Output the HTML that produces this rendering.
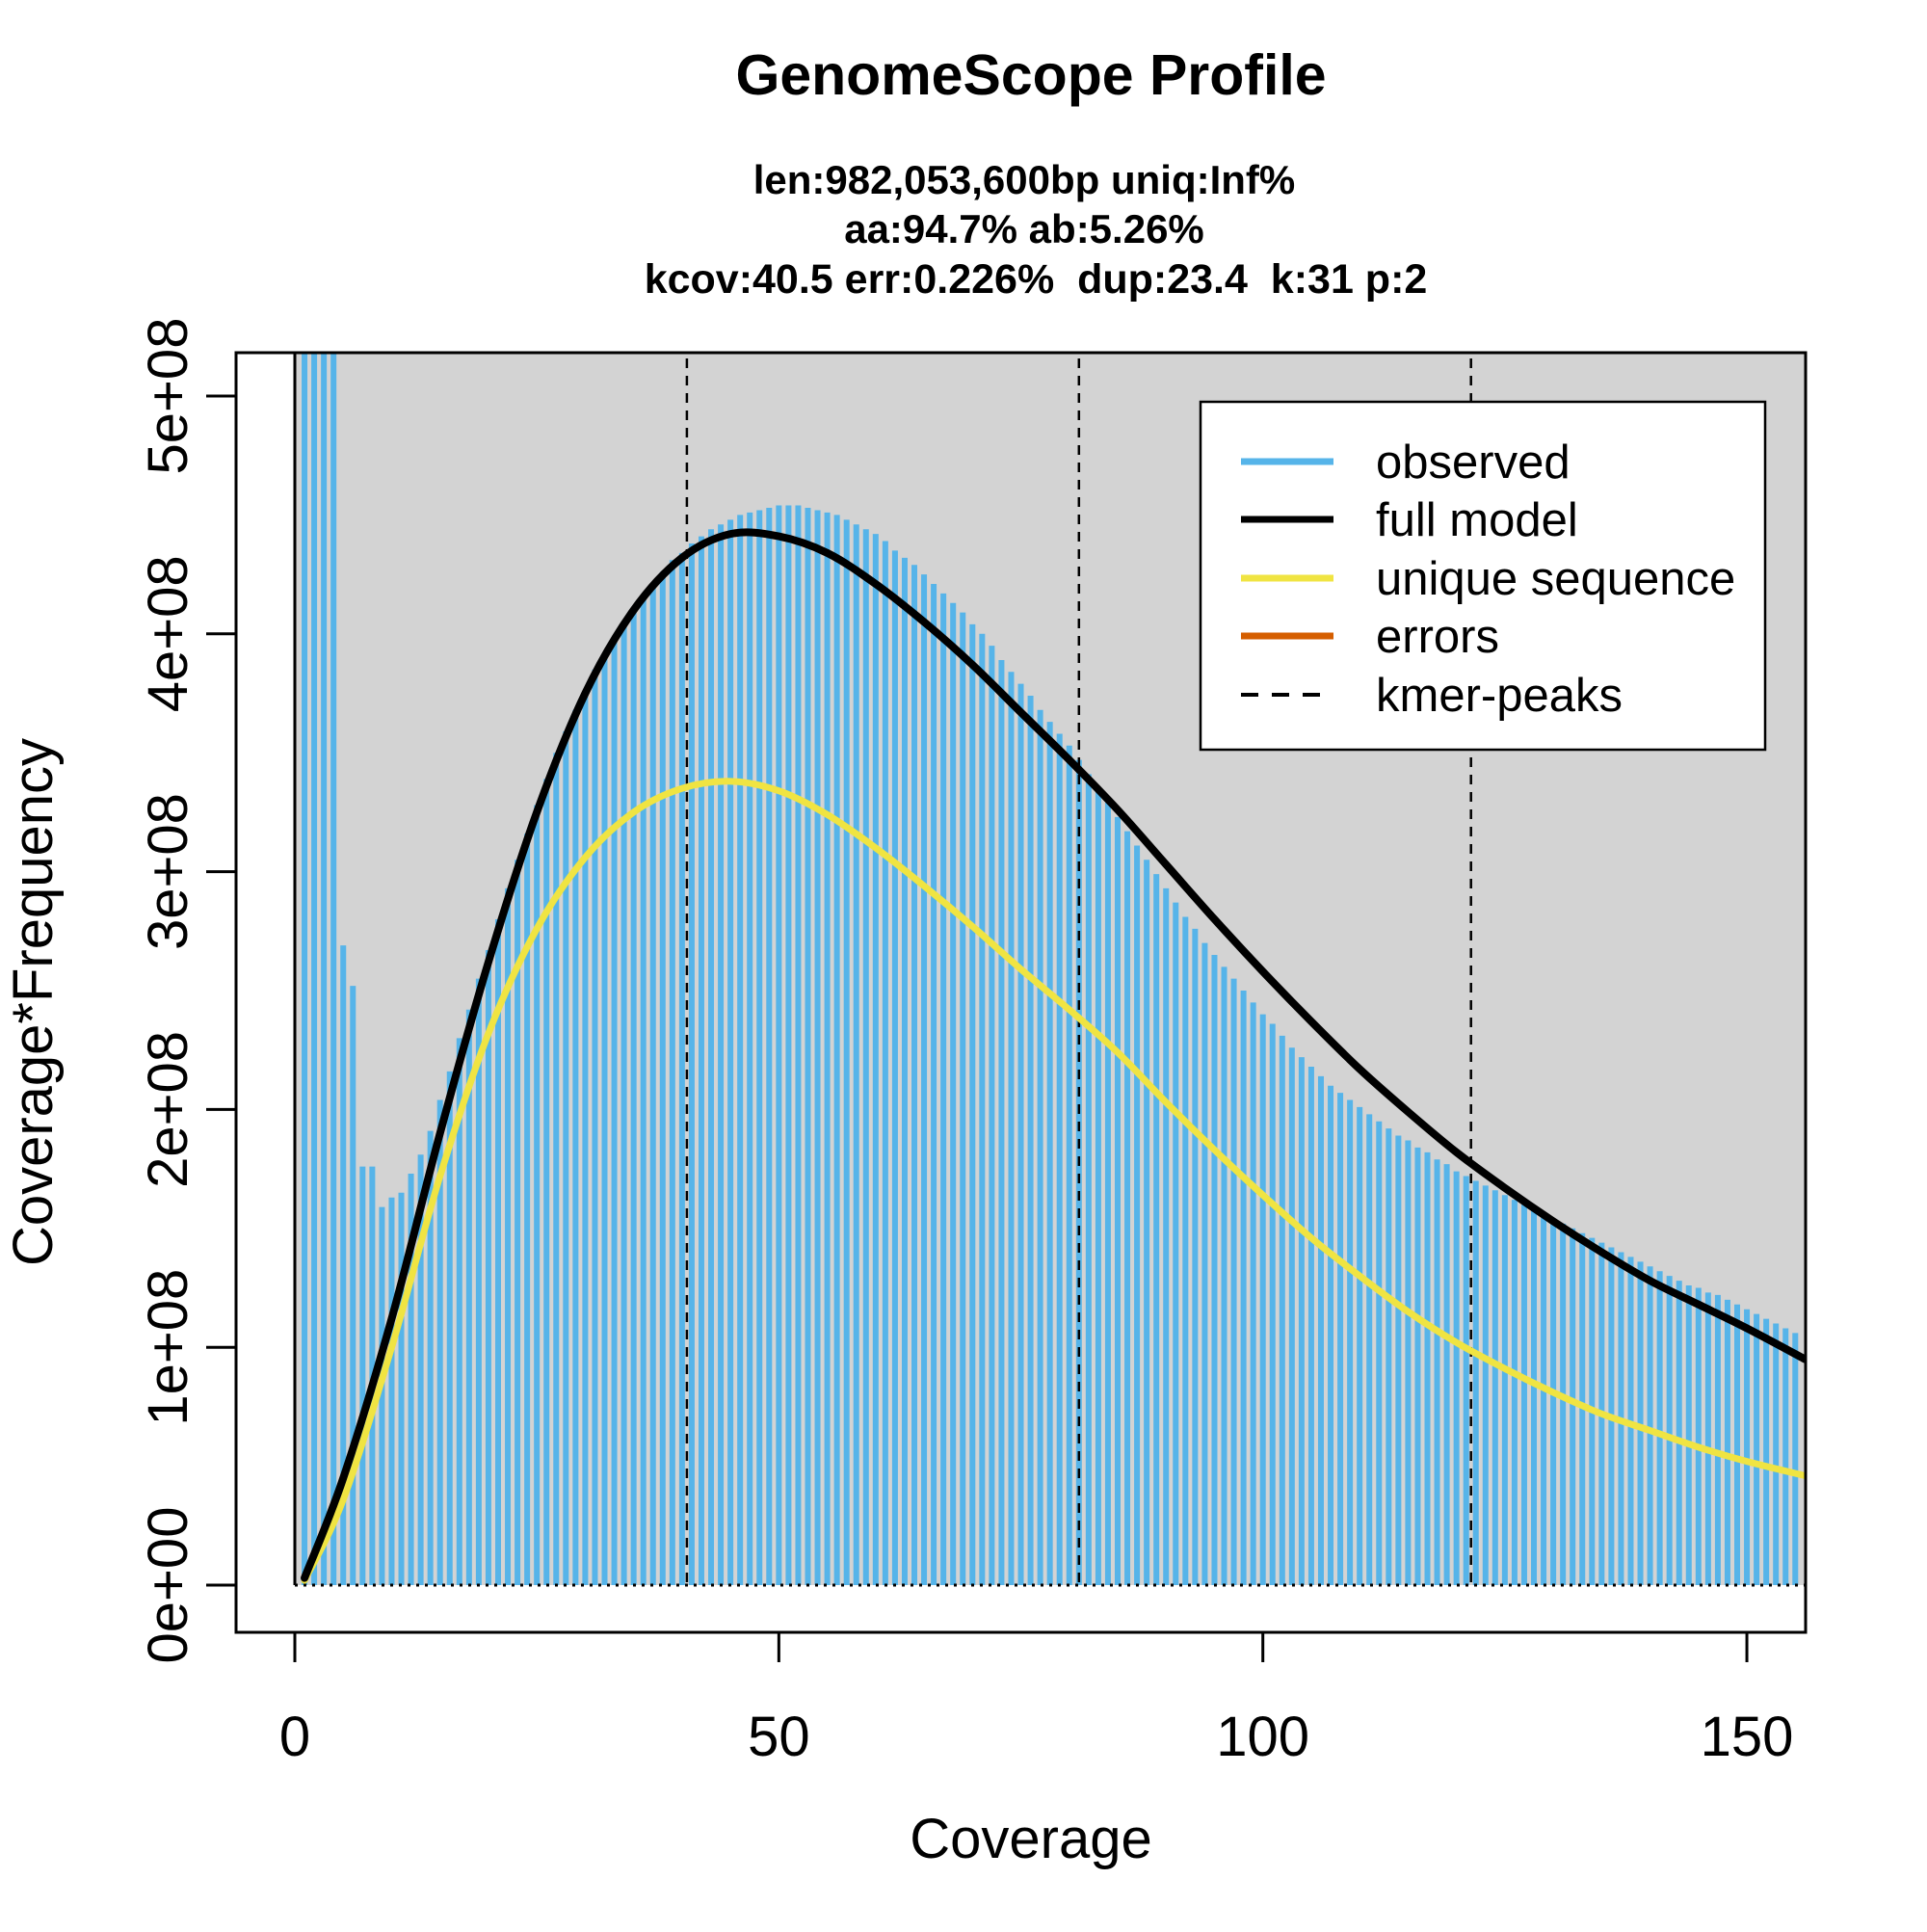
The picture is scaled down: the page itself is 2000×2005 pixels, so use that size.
<!DOCTYPE html>
<html><head><meta charset="utf-8"><style>
body{margin:0;background:#fff}
svg text{font-family:"Liberation Sans",Arial,sans-serif;white-space:pre}
</style></head><body>
<svg id="chart" width="2000" height="2000" viewBox="0 0 2000 2000" xmlns="http://www.w3.org/2000/svg">
<defs><clipPath id="pc"><rect x="245" y="366" width="1629" height="1328"/></clipPath></defs>
<rect x="0" y="0" width="2000" height="2000" fill="#fff"/>
<text x="1070" y="98" font-size="59" font-weight="bold" text-anchor="middle">GenomeScope Profile</text>
<text x="1063" y="201" font-size="42" font-weight="bold" text-anchor="middle">len:982,053,600bp uniq:Inf%</text>
<text x="1063" y="252" font-size="42" font-weight="bold" text-anchor="middle">aa:94.7% ab:5.26%</text>
<text x="1075" y="304" font-size="43" font-weight="bold" text-anchor="middle">kcov:40.5 err:0.226%  dup:23.4  k:31 p:2</text>
<g id="plot" clip-path="url(#pc)"></g>
<g id="axes"></g>
<text x="1070" y="1928" font-size="58" text-anchor="middle">Coverage</text>
<text transform="translate(54,1040) rotate(-90)" font-size="58" text-anchor="middle">Coverage*Frequency</text>
<g>
<rect x="1246" y="417" width="586" height="361" fill="#fff" stroke="#000" stroke-width="2.5"/>
<line x1="1288" y1="479" x2="1384" y2="479" stroke="#56B4E9" stroke-width="7"/>
<text x="1428" y="496" font-size="49">observed</text>
<line x1="1288" y1="539" x2="1384" y2="539" stroke="#000" stroke-width="7"/>
<text x="1428" y="556" font-size="49">full model</text>
<line x1="1288" y1="600" x2="1384" y2="600" stroke="#F0E442" stroke-width="7"/>
<text x="1428" y="617" font-size="49">unique sequence</text>
<line x1="1288" y1="660" x2="1384" y2="660" stroke="#D55E00" stroke-width="7"/>
<text x="1428" y="677" font-size="49">errors</text>
<line x1="1288" y1="721" x2="1384" y2="721" stroke="#000" stroke-width="4" stroke-dasharray="18,14"/>
<text x="1428" y="738" font-size="49">kmer-peaks</text>
</g>
<rect x="245" y="366" width="1629" height="1328" fill="none" stroke="#000" stroke-width="3"/>
</svg>
<script>
const obsValues=[9,9,9,9,2.69,2.52,1.76,1.76,1.59,1.63,1.65,1.73,1.81,1.91,2.04,2.16,2.30,2.42,2.55,2.67,2.80,2.93,3.05,3.16,3.28,3.39,3.50,3.59,3.68,3.76,3.85,3.91,3.98,4.05,4.11,4.16,4.21,4.26,4.31,4.34,4.38,4.41,4.44,4.46,4.48,4.50,4.51,4.52,4.53,4.54,4.54,4.54,4.53,4.52,4.51,4.50,4.48,4.46,4.44,4.42,4.39,4.35,4.32,4.29,4.25,4.21,4.17,4.13,4.09,4.04,4.00,3.95,3.89,3.84,3.79,3.74,3.68,3.63,3.58,3.53,3.47,3.41,3.35,3.29,3.23,3.17,3.11,3.05,2.99,2.93,2.87,2.81,2.76,2.70,2.65,2.60,2.55,2.50,2.45,2.40,2.36,2.31,2.26,2.22,2.18,2.14,2.10,2.07,2.04,2.01,1.98,1.95,1.92,1.89,1.87,1.84,1.82,1.79,1.77,1.74,1.72,1.70,1.68,1.66,1.64,1.62,1.60,1.58,1.56,1.54,1.52,1.50,1.48,1.46,1.44,1.42,1.40,1.38,1.36,1.34,1.32,1.30,1.28,1.26,1.25,1.23,1.22,1.20,1.18,1.16,1.14,1.12,1.10,1.08,1.06];
const curveX=[1,5,10,15,20,25,30,35,40,45,50,55,60,65,70,75,80,85,90,95,100,105,110,115,120,125,130,135,140,145,150,156];
const fullModel=[0.03,0.45,1.12,1.90,2.62,3.25,3.75,4.10,4.32,4.42,4.41,4.34,4.21,4.05,3.87,3.67,3.47,3.26,3.03,2.80,2.58,2.37,2.17,1.99,1.82,1.67,1.53,1.40,1.28,1.18,1.08,0.95];
const uniqueSeq=[0.02,0.36,1.00,1.72,2.32,2.76,3.06,3.25,3.35,3.38,3.34,3.24,3.10,2.94,2.77,2.59,2.42,2.24,2.03,1.83,1.64,1.46,1.30,1.15,1.02,0.91,0.81,0.72,0.65,0.58,0.52,0.46];
const peaks=[40.5,81,121.5];
const xTicks=[0,50,100,150];
const yTicks=[0,1,2,3,4,5];
const yTickLabels=["0e+00","1e+08","2e+08","3e+08","4e+08","5e+08"];
const NS="http://www.w3.org/2000/svg";
const sx=v=>306+v*10.047;
const sy=v=>1645-v*246.8;
function mk(tag,attrs,parent){const e=document.createElementNS(NS,tag);for(const k in attrs)e.setAttribute(k,attrs[k]);parent.appendChild(e);return e;}
const plot=document.getElementById('plot'),axes=document.getElementById('axes');
let bg=mk('rect',{x:sx(0),y:300,width:1900-sx(0),height:sy(0)-300,fill:'#D3D3D3'},plot);


obsValues.forEach((v,i)=>{const x=sx(i+1);
 const b=mk('line',{x1:x,x2:x,y1:sy(0),y2:sy(v),stroke:'#56B4E9','stroke-width':6},plot);
 
 });
let hz=mk('line',{x1:sx(0),x2:1874,y1:sy(0),y2:sy(0),stroke:'#000','stroke-width':3,'stroke-dasharray':'3,6'},plot);


let vl=mk('line',{x1:sx(0),x2:sx(0),y1:sy(0),y2:300,stroke:'#000','stroke-width':3},plot);


peaks.forEach(p=>{const l=mk('line',{x1:sx(p),x2:sx(p),y1:300,y2:sy(0),stroke:'#000','stroke-width':2.5,'stroke-dasharray':'10,8'},plot);
 
 });
function smooth(xs,ys){const P=xs.map((x,i)=>[sx(x),sy(ys[i])]);let d='M'+P[0][0]+','+P[0][1];
 for(let i=0;i<P.length-1;i++){const p0=P[Math.max(0,i-1)],p1=P[i],p2=P[i+1],p3=P[Math.min(P.length-1,i+2)];
  d+=` C${p1[0]+(p2[0]-p0[0])/6},${p1[1]+(p2[1]-p0[1])/6} ${p2[0]-(p3[0]-p1[0])/6},${p2[1]-(p3[1]-p1[1])/6} ${p2[0]},${p2[1]}`;}
 return d;}
let uq=mk('path',{d:smooth(curveX,uniqueSeq),fill:'none',stroke:'#F0E442','stroke-width':7,'stroke-linecap':'round'},plot);


let fm=mk('path',{d:smooth(curveX,fullModel),fill:'none',stroke:'#000','stroke-width':8,'stroke-linecap':'round'},plot);


xTicks.forEach(t=>{const x=sx(t);
 const l=mk('line',{x1:x,x2:x,y1:1694,y2:1725,stroke:'#000','stroke-width':3},axes);
 
 
 const tx=mk('text',{x:x,y:1822,'font-size':58,'text-anchor':'middle'},axes);tx.textContent=t;
 
 });
yTicks.forEach((t,i)=>{const y=sy(t);
 const l=mk('line',{x1:214,x2:245,y1:y,y2:y,stroke:'#000','stroke-width':3},axes);
 
 
 const tx=mk('text',{transform:`translate(194,${y}) rotate(-90)`,'font-size':58,'text-anchor':'middle'},axes);tx.textContent=yTickLabels[i];
 
 });
</script>
</body></html>
